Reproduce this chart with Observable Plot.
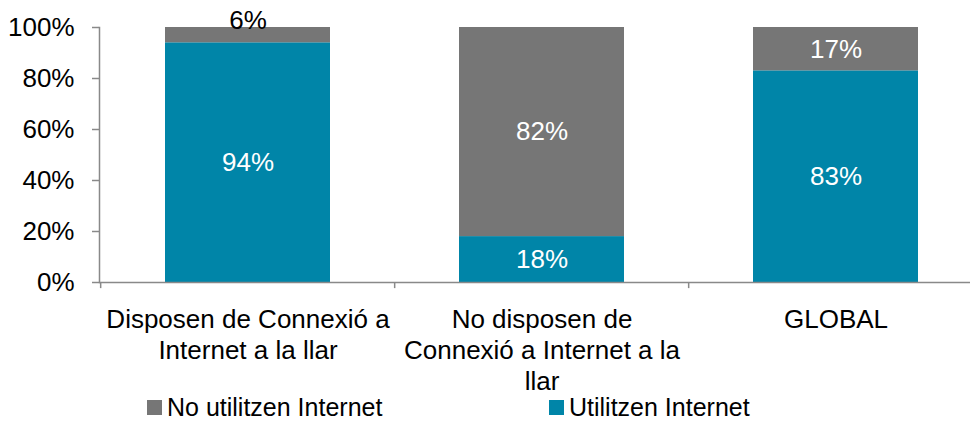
<!DOCTYPE html>
<html><head><meta charset="utf-8">
<script src="https://cdn.jsdelivr.net/npm/d3@7"></script>
<script src="https://cdn.jsdelivr.net/npm/@observablehq/plot@0.6"></script>
<style>
body{margin:0;background:#fff;font-family:"Liberation Sans",Arial,sans-serif;overflow:hidden;}
#legend{position:relative;height:27px;font-size:25px;line-height:27px;color:#000;width:970px;}
.item{position:absolute;top:0;display:flex;align-items:center;height:27px;white-space:nowrap;}
.sw{width:15px;height:15px;margin-right:5px;}
</style></head><body>
<div id="chart"></div><div id="legend"></div>
<script>
const categories = ["Disposen de Connexió a\nInternet a la llar", "No disposen de\nConnexió a Internet a la\nllar", "GLOBAL"];
const series = ["Utilitzen Internet", "No utilitzen Internet"];
const utilitzen = [94, 18, 83];
const noUtilitzen = [6, 82, 17];
const yTicks = [0, 20, 40, 60, 80, 100];
const legendOrder = ["No utilitzen Internet", "Utilitzen Internet"];
const colorRange = ["#0085a8", "#767676"];

const rows = [];
categories.forEach((c, i) => {
  const vals = [utilitzen[i], noUtilitzen[i]];
  let base = 0;
  series.forEach((s, j) => {
    rows.push({cat: c, series: s, value: vals[j], y1: base, y2: base + vals[j]});
    base += vals[j];
  });
});

const W = 970, H = 394;
const xRange = [99, 983];
const step = (xRange[1] - xRange[0]) / categories.length;
const axisColor = "#898989";

const chart = Plot.plot({
  width: W, height: H,
  marginLeft: 99, marginRight: 0, marginTop: 27, marginBottom: H - 282,
  style: {fontFamily: '"Liberation Sans", Arial, sans-serif', fontSize: "26px", background: "#fff", overflow: "visible", display: "block"},
  x: {domain: categories, range: xRange, paddingInner: 0.44, paddingOuter: 0.22, label: null},
  y: {domain: [0, 100], label: null},
  color: {domain: series, range: colorRange},
  marks: [
    Plot.barY(rows, {x: "cat", y1: "y1", y2: "y2", fill: "series"}),
    Plot.frame({anchor: "left", stroke: axisColor, strokeWidth: 1.5}),
    Plot.ruleY([0], {stroke: axisColor, strokeWidth: 1.5}),
    Plot.ruleX(categories, {x: d => d, y1: 0, y2: -2.4, dx: -step / 2, stroke: axisColor, strokeWidth: 1.5}),
    Plot.axisY({ticks: yTicks, tickFormat: d => d + "%", tickSize: 7, tickPadding: 18, fontSize: 26, stroke: axisColor, strokeWidth: 1.5, fill: "#000", label: null}),
    Plot.axisX({tickSize: 0, tickPadding: 23, fontSize: 26, lineHeight: 1.2, fill: "#000", label: null}),
    Plot.text(rows.filter(d => d.value >= 10), {x: "cat", y: d => (d.y1 + d.y2) / 2, text: d => d.value + "%", fill: "white", fontSize: 26}),
    Plot.text(rows.filter(d => d.value < 10), {x: "cat", y: d => (d.y1 + d.y2) / 2, text: d => d.value + "%", fill: "black", fontSize: 26, dy: -14})
  ]
});
document.getElementById("chart").appendChild(chart);

const legend = document.getElementById("legend");
const legendX = [147, 549];
legendOrder.forEach((s, i) => {
  const it = document.createElement("div");
  it.className = "item";
  it.style.left = legendX[i] + "px";
  const sw = document.createElement("span");
  sw.className = "sw";
  sw.style.background = colorRange[series.indexOf(s)];
  const tx = document.createElement("span");
  tx.textContent = s;
  it.appendChild(sw); it.appendChild(tx);
  legend.appendChild(it);
});
</script>
</body></html>
